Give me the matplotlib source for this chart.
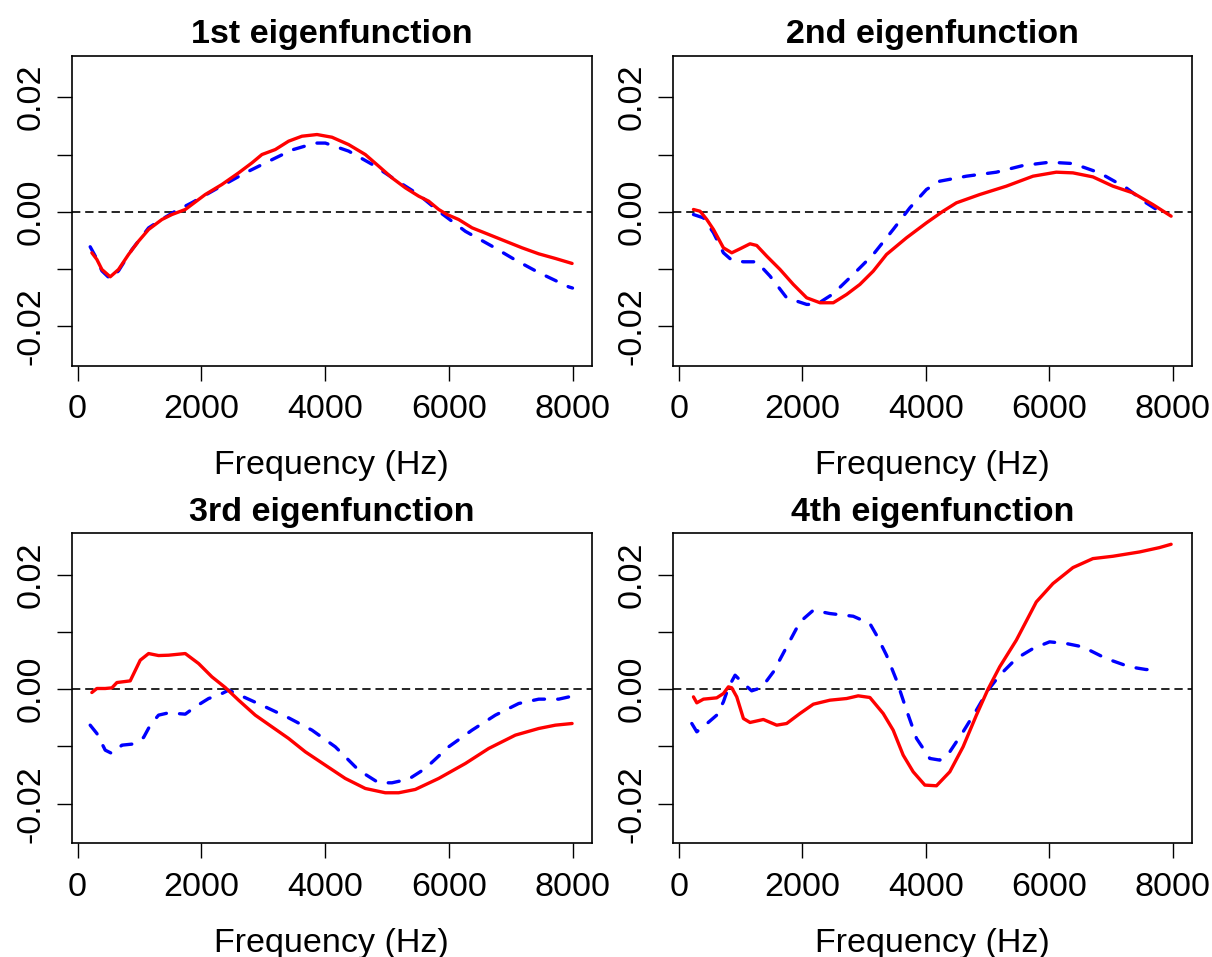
import matplotlib
matplotlib.use("Agg")
import matplotlib.pyplot as plt

plt.rcParams["font.family"] = ["Liberation Sans", "DejaVu Sans"]
plt.rcParams["lines.scale_dashes"] = False

titles = ["1st eigenfunction", "2nd eigenfunction", "3rd eigenfunction", "4th eigenfunction"]
x_ticks = [0, 2000, 4000, 6000, 8000]
y_ticks = [-0.02, -0.01, 0.0, 0.01, 0.02]
y_tick_labels = ["-0.02", "", "0.00", "", "0.02"]

# values read in units of 1e-3
f1_red = [231, 312, 393, 528, 662, 824, 986, 1148, 1363, 1525, 1741, 2064, 2333, 2603, 2819, 2980,
          3196, 3411, 3627, 3870, 4112, 4381, 4651, 4867, 5082, 5298, 5514, 5675, 5837, 5972, 6160,
          6376, 6645, 6915, 7184, 7454, 7723, 7993]
v1_red = [-7.15, -8.31, -10.06, -11.34, -10.06, -7.44, -5.12, -3.08, -1.34, -0.47, 0.41, 3.02, 4.77,
          6.80, 8.55, 10.0, 10.87, 12.33, 13.20, 13.49, 13.02, 11.74, 10.0, 7.97, 5.93, 4.19, 2.73,
          1.86, 0.41, -0.47, -1.34, -2.79, -3.95, -5.12, -6.28, -7.33, -8.14, -9.01]
f1_blue = [204, 285, 393, 528, 662, 878, 1148, 1363, 1579, 1849, 2226, 2711, 3142, 3465, 3843, 4005,
           4381, 4759, 5136, 5514, 5837, 6268, 6699, 7076, 7454, 7939, 8000]
v1_blue = [-6.1, -7.7, -10.3, -11.7, -10.3, -6.6, -2.8, -1.3, 0.1, 1.6, 3.9, 6.8, 9.1, 10.8, 12.0,
           12.0, 10.6, 8.3, 5.6, 3.0, 0.1, -3.4, -6.0, -8.4, -10.6, -13.1, -13.3]

f2_red = [237, 345, 453, 561, 722, 857, 992, 1153, 1261, 1423, 1639, 1854, 2070, 2286, 2501, 2717,
          2932, 3148, 3363, 3687, 4010, 4280, 4495, 4873, 5304, 5735, 6112, 6382, 6705, 7029, 7352,
          7675, 7972]
v2_red = [0.41, 0.1, -1.34, -3.08, -6.28, -7.15, -6.45, -5.58, -5.87, -7.73, -10.06, -12.67, -15.0,
          -15.87, -15.87, -14.42, -12.67, -10.35, -7.44, -4.53, -1.92, 0.12, 1.57, 3.02, 4.48, 6.22,
          6.92, 6.80, 6.10, 4.48, 3.31, 1.28, -0.76]
f2_blue = [237, 399, 561, 722, 857, 1046, 1261, 1477, 1746, 2070, 2232, 2501, 2824, 3148, 3471, 3741,
           4010, 4226, 4657, 5142, 5573, 6004, 6382, 6813, 7244, 7567, 7837]
v2_blue = [-0.47, -1.05, -3.66, -7.15, -8.43, -8.72, -8.72, -11.22, -15.0, -16.16, -16.16, -14.3,
           -10.93, -7.44, -3.08, 0.7, 3.9, 5.35, 6.22, 6.92, 8.08, 8.66, 8.43, 6.80, 4.19, 1.57, -0.29]

f3_red = [231, 312, 447, 555, 636, 851, 1013, 1148, 1309, 1471, 1741, 1956, 2172, 2387, 2603, 2872,
          3142, 3411, 3681, 4004, 4327, 4651, 4974, 5190, 5459, 5837, 6268, 6645, 7076, 7454, 7723,
          7993]
v3_red = [-0.58, 0.12, 0.12, 0.23, 1.16, 1.45, 5.06, 6.22, 5.87, 5.93, 6.22, 4.48, 2.15, 0.29, -1.92,
          -4.53, -6.57, -8.60, -10.93, -13.26, -15.58, -17.33, -18.08, -18.08, -17.5, -15.58, -12.97,
          -10.35, -8.02, -6.86, -6.28, -5.99]
f3_blue = [204, 312, 447, 555, 717, 878, 1067, 1175, 1309, 1471, 1741, 1902, 2118, 2280, 2441, 2657,
           3034, 3411, 3789, 4166, 4543, 4867, 5082, 5352, 5621, 5998, 6376, 6753, 7130, 7454, 7777,
           7993]
v3_blue = [-6.28, -7.73, -10.64, -11.22, -9.77, -9.59, -8.43, -6.28, -4.53, -4.13, -4.36, -3.08,
           -1.63, -1.05, -0.17, -1.22, -3.08, -5.0, -7.15, -10.06, -14.13, -16.34, -16.34, -15.7,
           -13.84, -10.06, -7.15, -4.53, -2.5, -1.74, -1.74, -1.22]

f4_red = [237, 291, 399, 614, 722, 803, 857, 938, 1046, 1153, 1369, 1585, 1746, 1962, 2178, 2447,
          2717, 2905, 3094, 3309, 3471, 3633, 3795, 3984, 4172, 4388, 4603, 4819, 5007, 5196, 5465,
          5789, 6058, 6382, 6705, 7029, 7460, 7783, 7972]
v4_red = [-1.34, -2.38, -1.74, -1.51, -0.76, 0.41, 0.23, -1.34, -5.12, -5.81, -5.29, -6.28, -5.99,
          -4.24, -2.62, -1.92, -1.63, -1.16, -1.45, -4.24, -7.15, -11.51, -14.42, -16.74, -16.86,
          -14.42, -10.06, -4.53, 0.0, 3.9, 8.55, 15.23, 18.43, 21.22, 22.79, 23.2, 23.95, 24.71, 25.29]
f4_blue = [210, 291, 426, 614, 722, 803, 911, 1019, 1180, 1342, 1531, 1746, 1962, 2178, 2447, 2824,
           3094, 3202, 3363, 3525, 3687, 3849, 4064, 4226, 4388, 4603, 4819, 5007, 5196, 5465, 5735,
           6004, 6274, 6543, 6920, 7298, 7567, 7783]
v4_blue = [-5.99, -7.44, -6.28, -4.53, -2.21, 0.29, 2.44, 1.28, -0.29, 0.29, 3.02, 7.38, 11.74, 13.78,
           13.2, 12.73, 11.45, 9.42, 5.93, 1.57, -3.66, -8.60, -12.09, -12.38, -10.93, -7.44, -3.66,
           -0.17, 2.44, 5.35, 7.09, 8.26, 7.97, 7.38, 5.35, 3.90, 3.43, 3.43]

panels = [
    (f1_red, v1_red, f1_blue, v1_blue),
    (f2_red, v2_red, f2_blue, v2_blue),
    (f3_red, v3_red, f3_blue, v3_blue),
    (f4_red, v4_red, f4_blue, v4_blue),
]

positions = [
    [0.0594, 0.6176, 0.4288, 0.3239],
    [0.5555, 0.6176, 0.4280, 0.3239],
    [0.0594, 0.1188, 0.4288, 0.3239],
    [0.5555, 0.1188, 0.4280, 0.3239],
]

fig = plt.figure(figsize=(12.12, 9.57), dpi=100)

for pos, title, (fr, vr, fb, vb) in zip(positions, titles, panels):
    ax = fig.add_axes(pos)
    ax.axhline(0, color="black", lw=1.2, dashes=(6, 3.5))
    ax.plot(fb, [v / 1000 for v in vb], color="#0000FF", lw=2.4,
            dashes=(8, 9.5), dash_capstyle="round")
    ax.plot(fr, [v / 1000 for v in vr], color="#FF0000", lw=2.4,
            solid_capstyle="round", solid_joinstyle="round")
    ax.set_xlim(-90, 8310)
    ax.set_ylim(-0.0269, 0.0272)
    ax.set_xticks(x_ticks)
    ax.set_xticklabels([str(t) for t in x_ticks])
    ax.set_yticks(y_ticks)
    ax.set_yticklabels(y_tick_labels, rotation=90, va="center")
    ax.tick_params(axis="both", direction="out", length=10.5, width=1.0,
                   labelsize=24.5, colors="black")
    ax.tick_params(axis="x", pad=10)
    ax.tick_params(axis="y", pad=8)
    for sp in ax.spines.values():
        sp.set_linewidth(1.2)
        sp.set_color("black")
    ax.set_title(title, fontsize=24.5, fontweight="bold", pad=9)
    ax.set_xlabel("Frequency (Hz)", fontsize=24.5, labelpad=18)

fig.savefig("out.png", dpi=100)
